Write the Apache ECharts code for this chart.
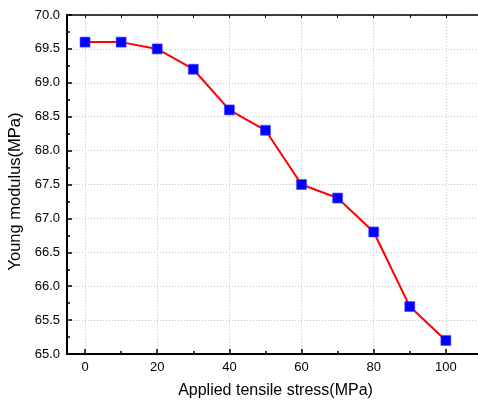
<!DOCTYPE html>
<html>
<head>
<meta charset="utf-8">
<script src="https://cdn.jsdelivr.net/npm/echarts@6/dist/echarts.min.js"></script>
<style>
html,body{margin:0;padding:0;background:#fff;overflow:hidden;}
#chart{width:478px;height:403px;}
</style>
</head>
<body>
<div id="chart"></div>
<script>
const stress = [0, 10, 20, 30, 40, 50, 60, 70, 80, 90, 100];
const modulus = [69.6, 69.6, 69.5, 69.2, 68.6, 68.3, 67.5, 67.3, 66.8, 65.7, 65.2];
const xTitle = 'Applied tensile stress(MPa)';
const yTitle = 'Young modulus(MPa)';

const FONT = '"Liberation Sans", Arial, sans-serif';
const chart = echarts.init(document.getElementById('chart'), null, {renderer: 'canvas'});
const gridLine = {show: true, lineStyle: {color: '#c4c4c4', width: 1, type: [1, 2]}};

chart.setOption({
  animation: false,
  backgroundColor: '#ffffff',
  grid: {left: 67, top: 15, width: 433, height: 339, containLabel: false, outerBoundsMode: 'none'},
  xAxis: [{
    type: 'value', position: 'bottom', min: -5, max: 115, splitNumber: 6,
    name: xTitle, nameLocation: 'middle', nameGap: 29,
    nameTextStyle: {fontFamily: FONT, fontSize: 16, color: '#000', padding: [0, 16, 0, 0]},
    axisLine: {show: true, onZero: false, lineStyle: {color: '#000', width: 2}},
    axisTick: {show: true, inside: true, length: 5, lineStyle: {color: '#000', width: 1.5}},
    minorTick: {show: true, splitNumber: 2, length: 3, lineStyle: {color: '#000', width: 1.5}},
    axisLabel: {
      margin: 7, fontFamily: FONT, fontSize: 13, color: '#000',
      formatter: v => (v >= 0 && v <= 100 && v % 20 === 0) ? String(v) : ''
    },
    splitLine: gridLine
  }, {
    type: 'value', position: 'top', min: -5, max: 115, splitNumber: 6,
    axisLine: {show: true, onZero: false, lineStyle: {color: '#000', width: 1.5}},
    axisTick: {show: true, inside: true, length: 3, lineStyle: {color: '#000', width: 1}},
    minorTick: {show: true, splitNumber: 2, length: 3, lineStyle: {color: '#000', width: 1}},
    axisLabel: {show: false},
    splitLine: {show: false}
  }],
  yAxis: [{
    type: 'value', min: 65, max: 70, interval: 0.5,
    name: yTitle, nameLocation: 'middle', nameGap: 35, nameRotate: 90,
    nameTextStyle: {fontFamily: FONT, fontSize: 16.5, color: '#000', padding: [0, 14, 0, 0]},
    axisLine: {show: true, onZero: false, lineStyle: {color: '#000', width: 2}},
    axisTick: {show: true, inside: true, length: 5, lineStyle: {color: '#000', width: 1.5}},
    minorTick: {show: true, splitNumber: 2, length: 3, lineStyle: {color: '#000', width: 1.5}},
    axisLabel: {margin: 7, fontFamily: FONT, fontSize: 13, color: '#000', formatter: v => v.toFixed(1)},
    splitLine: gridLine
  }],
  series: [{
    type: 'line',
    xAxisIndex: 0, yAxisIndex: 0,
    data: stress.map((x, i) => [x, modulus[i]]),
    symbol: 'rect', symbolSize: 10,
    itemStyle: {color: '#0000ff', borderColor: '#4a4aff', borderWidth: 0.6},
    lineStyle: {color: '#ff0000', width: 2},
    clip: false
  }]
});
</script>
</body>
</html>
